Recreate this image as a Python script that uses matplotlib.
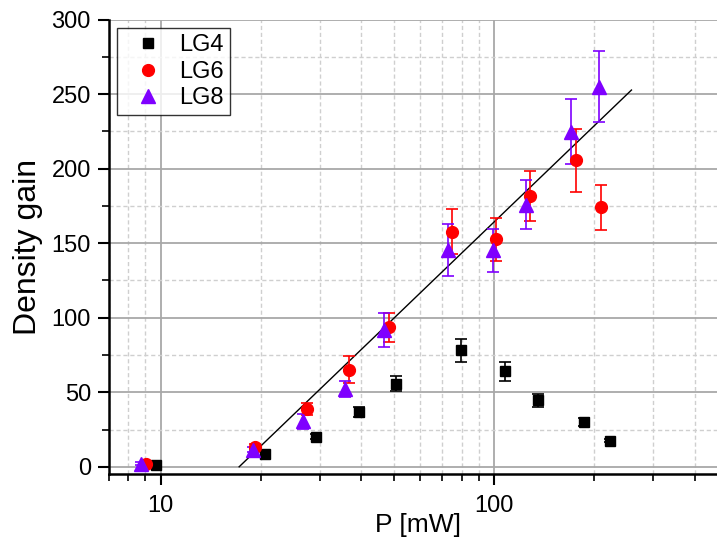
import numpy as np
import matplotlib
matplotlib.use("Agg")
import matplotlib.pyplot as plt
from matplotlib.ticker import LogLocator, NullFormatter, MultipleLocator, FuncFormatter

plt.rcParams['font.family'] = ['Liberation Sans', 'DejaVu Sans']

# LG4 data
p_lg4 = [9.68, 20.6, 29.2, 39.3, 50.7, 79.6, 108.2, 135.8, 186.4, 223.4]
g_lg4 = [1.3, 8.9, 20.3, 36.8, 55.8, 78.1, 64.0, 44.6, 29.9, 17.4]
e_lg4 = [1.0, 1.5, 1.5, 3.5, 5.2, 7.5, 6.2, 4.5, 2.5, 1.0]

# LG6 data
p_lg6 = [9.02, 19.2, 27.4, 36.7, 48.4, 75.0, 101.2, 128.0, 176.2, 209.9]
g_lg6 = [2.0, 13.4, 38.8, 65.2, 93.5, 157.8, 152.7, 181.7, 205.6, 174.1]
e_lg6 = [1.0, 2.0, 4.0, 8.8, 9.5, 15.2, 14.4, 17.0, 21.0, 15.2]

# LG8 data
p_lg8 = [8.73, 18.9, 26.7, 35.8, 46.9, 72.8, 99.0, 125.0, 169.9, 206.6]
g_lg8 = [2.2, 11.6, 30.5, 52.4, 91.5, 145.5, 145.1, 175.7, 224.8, 254.9]
e_lg8 = [1.0, 2.0, 5.0, 5.4, 11.4, 17.6, 14.2, 16.5, 21.7, 23.7]

# linear fit in log(P)
fit_p = [17.2, 258.4]
fit_g = [0.0, 252.7]

purple = "#7f00ff"

fig = plt.figure(figsize=(7.17, 5.42), dpi=100)
ax = fig.add_axes([0.152, 0.125, 0.862, 0.839])

ax.set_xscale("log")
ax.set_xlim(7, 500)
ax.set_ylim(-5, 300)

ax.xaxis.set_major_locator(LogLocator(base=10, numticks=10))
ax.xaxis.set_major_formatter(FuncFormatter(lambda v, pos: "%g" % v))
ax.xaxis.set_minor_locator(LogLocator(base=10, subs=np.arange(2, 10), numticks=20))
ax.xaxis.set_minor_formatter(NullFormatter())
ax.yaxis.set_major_locator(MultipleLocator(50))
ax.yaxis.set_minor_locator(MultipleLocator(25))

ax.grid(which="major", color="#a8a8a8", linestyle="-", linewidth=1.3)
ax.grid(which="minor", color="#cfcfcf", linestyle=(0, (3, 2)), linewidth=1.0)
ax.set_axisbelow(True)

for s in ["top", "right"]:
    ax.spines[s].set_visible(False)
for s in ["left", "bottom"]:
    ax.spines[s].set_linewidth(1.8)

ax.tick_params(which="major", length=8, width=1.5, labelsize=17, pad=5)
ax.tick_params(axis="x", which="major", pad=7)
ax.tick_params(which="minor", length=5, width=1.2)

ax.plot(fit_p, fit_g, color="black", linewidth=1.0, zorder=3)

ax.errorbar(p_lg4, g_lg4, yerr=e_lg4, fmt="none", ecolor="black",
            elinewidth=1.2, capsize=4, capthick=1.2, zorder=4)
ax.errorbar(p_lg6, g_lg6, yerr=e_lg6, fmt="none", ecolor="red",
            elinewidth=1.2, capsize=4, capthick=1.2, zorder=4)
ax.errorbar(p_lg8, g_lg8, yerr=e_lg8, fmt="none", ecolor=purple,
            elinewidth=1.2, capsize=4, capthick=1.2, zorder=4)

ax.plot(p_lg4, g_lg4, "s", color="black", markersize=6.5, linestyle="none",
        label="LG4", zorder=5)
ax.plot(p_lg6, g_lg6, "o", color="red", markersize=8.5, linestyle="none",
        label="LG6", zorder=5)
ax.plot(p_lg8, g_lg8, "^", color=purple, markersize=9.5, linestyle="none",
        label="LG8", zorder=5)

ax.set_xlabel("P [mW]", fontsize=19, labelpad=-3)
ax.set_ylabel("Density gain", fontsize=23, labelpad=6)

leg = ax.legend(loc="upper left", bbox_to_anchor=(0.013, 0.981), fontsize=17,
                frameon=True, fancybox=False, edgecolor="black",
                handlelength=2.1, handletextpad=0.3, borderpad=0.25,
                borderaxespad=0, labelspacing=0.2)
leg.get_frame().set_linewidth(1.0)

plt.savefig("out.png", dpi=100)
